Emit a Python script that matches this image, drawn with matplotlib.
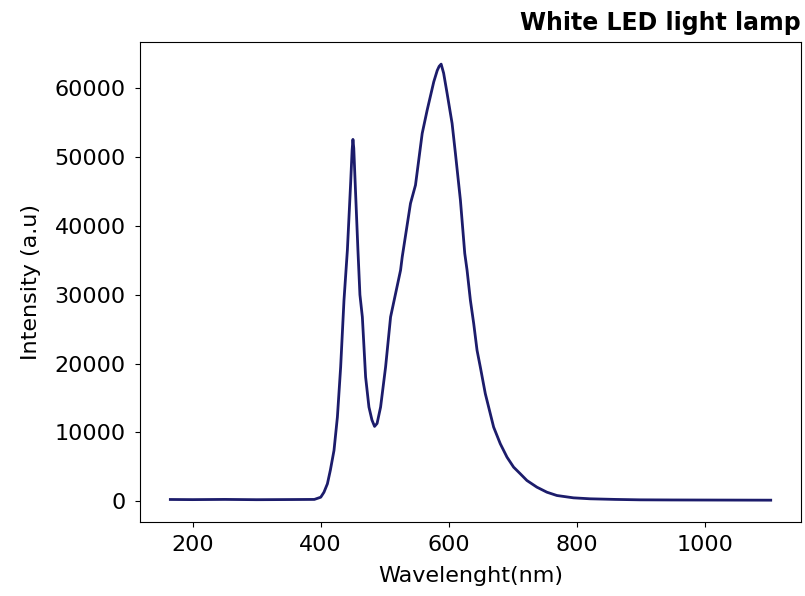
import numpy as np
import matplotlib
matplotlib.use('Agg')
import matplotlib.pyplot as plt

# spectrum
wavelength = [165, 200, 250, 300, 350, 390, 400, 405, 410.4, 415, 420.7, 426, 431.1,
              436.3, 441.6, 446.7, 449, 450.3, 451.6, 453.4, 458.1, 461.2, 465,
              470.1, 475.3, 480, 484.1, 488, 493.5, 501.3, 509.1, 516.9, 524.7,
              527.3, 540.2, 548, 558.5, 566.3, 576.6, 582, 585, 588.1, 592, 597.4,
              605.2, 610.4, 618.2, 625, 628.6, 633.8, 639, 644.2, 649.3, 657.1,
              670.1, 680.5, 691, 701.3, 711.7, 722.1, 737.7, 753.3, 768.9, 794.8,
              820.8, 860, 898.7, 950, 1000, 1050, 1103]
intensity = [250, 230, 260, 220, 240, 260, 580, 1300, 2530, 4500, 7380, 12220, 19500,
             29200, 36480, 46220, 51000, 52580, 51300, 47140, 36480, 30000, 26770,
             18040, 13680, 11800, 10870, 11300, 13680, 19500, 26770, 30170, 33570,
             35500, 43270, 45930, 53450, 56850, 60960, 62600, 63200, 63520, 62200, 59280,
             54910, 50550, 43750, 36000, 33570, 29200, 25800, 21930, 19500, 15630,
             10770, 8350, 6400, 4950, 3990, 3010, 2040, 1310, 830, 490,
             350, 260, 200, 180, 170, 160, 150]

fig = plt.figure(figsize=(8.05, 5.96), dpi=100)
ax = fig.add_axes([0.1743, 0.1242, 0.8204, 0.8048])
ax.plot(wavelength, intensity, color='#1c1c6b', linewidth=2)

ax.set_xticks([200, 400, 600, 800, 1000])
ax.set_yticks(np.arange(0, 60001, 10000))
ax.tick_params(labelsize=16, pad=6)
ax.tick_params(axis='y', pad=7)
ax.set_xlabel('Wavelenght(nm)', fontsize=16, labelpad=8)
ax.set_ylabel('Intensity (a.u)', fontsize=16, labelpad=10)
ax.set_title('White LED light lamp', loc='right', fontsize=17, fontweight='bold', pad=9)

fig.savefig('out.png', dpi=100)
